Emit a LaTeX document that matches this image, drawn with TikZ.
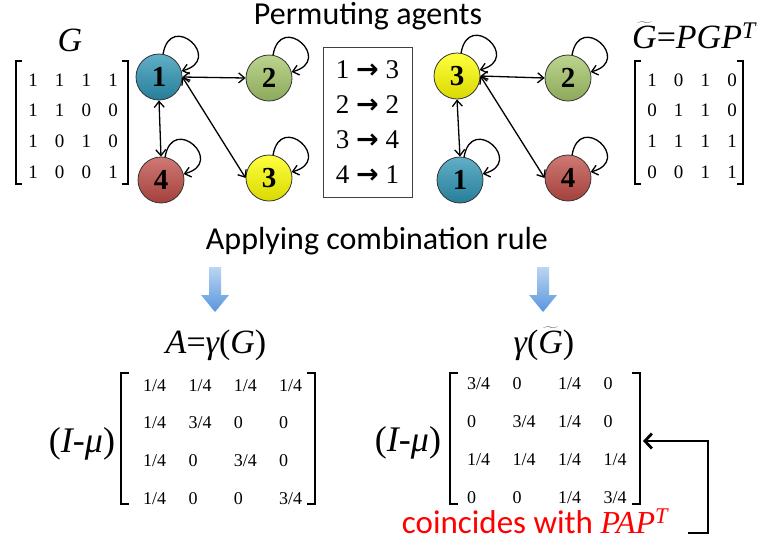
\documentclass[tikz,border=0pt]{standalone}
\usepackage{fontspec}
\setmainfont{Liberation Serif}
\newfontfamily\calfont{Carlito}
\newfontfamily\arrowfont{DejaVu Sans}
\usetikzlibrary{arrows.meta}
\definecolor{agentteal}{RGB}{45,148,180}
\definecolor{agentgreen}{RGB}{165,198,105}
\definecolor{agentyellow}{RGB}{255,255,0}
\definecolor{agentred}{RGB}{192,76,70}
\definecolor{shaftblue}{RGB}{88,150,222}

\begin{document}
\begin{tikzpicture}[x=1pt,y=1pt,
    agent/.style={circle, draw=black!80, line width=0.8pt, minimum size=46pt, inner sep=0pt,
      top color=#1!75!white, middle color=#1, bottom color=#1!85!black,
      font=\fontsize{29}{29}\selectfont\bfseries},
    link/.style={line width=1.3pt, {Straight Barb[length=6pt,width=10pt]}-{Straight Barb[length=6pt,width=10pt]}},
    selfloop/.style={line width=1.3pt, -{Straight Barb[length=6pt,width=10pt]}, out=80, in=15, looseness=4.5},
    entry/.style={font=\fontsize{19}{19}\selectfont, inner sep=0pt},
    weight/.style={font=\fontsize{18}{18}\selectfont, inner sep=0pt, anchor=base west},
    bracket/.style={line width=1.8pt},
    heading/.style={font=\calfont\fontsize{32}{32}\selectfont, anchor=base},
    formula/.style={font=\fontsize{34}{34}\selectfont, anchor=base},
    permbox/.style={draw=black!75, line width=0.8pt, minimum width=89pt, minimum height=150pt,
      align=center, font=\fontsize{27}{35}\selectfont},
    feedback/.style={line width=2.8pt, -{Straight Barb[length=7pt,width=15pt]}}]
   \useasboundingbox (0,0) rectangle (759,-550);

   \node[heading] (title1) at (368,-24) {Permuting agents};
   \node[heading] (title2) at (377,-249) {Applying combination rule};

   \node[formula] (glabel) at (70,-51) {\itshape G};
   \node[formula] (gtlabel) at (694,-48) {$\widetilde{\hbox{\itshape G}}$=\itshape PGP\textsuperscript{T}};

   \foreach \row [count=\r] in {{1,1,1,1},{1,1,0,0},{1,0,1,0},{1,0,0,1}}
     \foreach \v [count=\c] in \row
       \node[entry] (g\r\c) at ({33+26.7*(\c-1)},{-80-30.7*(\r-1)}) {\v};
   \foreach \row [count=\r] in {{1,0,1,0},{0,1,1,0},{1,1,1,1},{0,0,1,1}}
     \foreach \v [count=\c] in \row
       \node[entry] (gt\r\c) at ({652+26.7*(\c-1)},{-80-30.7*(\r-1)}) {\v};
   \draw[bracket] (22,-61) -- (16,-61) -- (16,-184) -- (22,-184);
   \draw[bracket] (122,-61) -- (128,-61) -- (128,-184) -- (122,-184);
   \draw[bracket] (641,-61) -- (635,-61) -- (635,-184) -- (641,-184);
   \draw[bracket] (737,-61) -- (743,-61) -- (743,-184) -- (737,-184);

   \node[agent=agentteal] (L1) at (159,-77) {1};
   \node[agent=agentgreen] (L2) at (269,-78) {2};
   \node[agent=agentyellow] (L3) at (269,-178) {3};
   \node[agent=agentred] (L4) at (161,-180) {4};
   \draw[link] (L1.east) to (L2.west);
   \draw[link] (L1.south) to (L4.north);
   \draw[link] (L1.east) to (L3.west);
   \foreach \n in {L1,L2,L3,L4}
     \draw[selfloop] (\n) to (\n);

   \node[permbox] (perm) at (367.5,-122) {1 {\arrowfont\bfseries →} 3\\2 {\arrowfont\bfseries →} 2\\3 {\arrowfont\bfseries →} 4\\4 {\arrowfont\bfseries →} 1};

   \node[agent=agentyellow] (R3) at (457,-76) {3};
   \node[agent=agentgreen] (R2) at (568,-78) {2};
   \node[agent=agentteal] (R1) at (460,-180) {1};
   \node[agent=agentred] (R4) at (568,-178) {4};
   \draw[link] (R3.east) to (R2.west);
   \draw[link] (R3.south) to (R1.north);
   \draw[link] (R3.east) to (R4.west);
   \foreach \n in {R1,R2,R3,R4}
     \draw[selfloop] (\n) to (\n);

   \foreach \ax in {215,543}
     \shade[top color=shaftblue!40!white, bottom color=shaftblue]
       (\ax-6,-267) -- (\ax+6,-267) -- (\ax+6,-295) -- (\ax+14,-295) -- (\ax,-312)
       -- (\ax-14,-295) -- (\ax-6,-295) -- cycle;

   \node[formula] (alabel) at (216,-353) {\itshape A\upshape=\itshape γ\upshape(\itshape G\upshape)};
   \node[formula] (atlabel) at (544,-353) {\itshape γ\upshape($\widetilde{\hbox{\itshape G}}$)};

   \node[formula, font=\fontsize{36}{36}\selectfont] (mu1) at (82,-452) {(\itshape I\upshape-\itshape μ\upshape)};
   \node[formula, font=\fontsize{36}{36}\selectfont] (mu2) at (408,-451) {(\itshape I\upshape-\itshape μ\upshape)};

   \foreach \row [count=\r] in {{1/4,1/4,1/4,1/4},{1/4,3/4,0,0},{1/4,0,3/4,0},{1/4,0,0,3/4}}
     \foreach \v [count=\c] in \row
       \node[weight] (a\r\c) at ({143+45.3*(\c-1)},{-391-37.7*(\r-1)}) {\v};
   \foreach \row [count=\r] in {{3/4,0,1/4,0},{0,3/4,1/4,0},{1/4,1/4,1/4,1/4},{0,0,1/4,3/4}}
     \foreach \v [count=\c] in \row
       \node[weight] (at\r\c) at ({467+45.5*(\c-1)},{-389-38*(\r-1)}) {\v};
   \draw[bracket] (129,-373) -- (121,-373) -- (121,-504) -- (129,-504);
   \draw[bracket] (307,-373) -- (315,-373) -- (315,-504) -- (307,-504);
   \draw[bracket] (458,-373) -- (450,-373) -- (450,-504) -- (458,-504);
   \draw[bracket] (632,-373) -- (640,-373) -- (640,-504) -- (632,-504);

   \node[anchor=base, text=red] (coin) at (535,-533)
     {{\calfont\fontsize{33}{33}\selectfont coincides with }{\fontsize{32}{32}\selectfont\itshape PAP\textsuperscript{T}}};
   \coordinate (fbs) at (688,-533);
   \coordinate (fbend) at (643,-441);
   \draw[feedback] (fbs) -- ++(20,0) |- (fbend);
 \end{tikzpicture}
\end{document}
